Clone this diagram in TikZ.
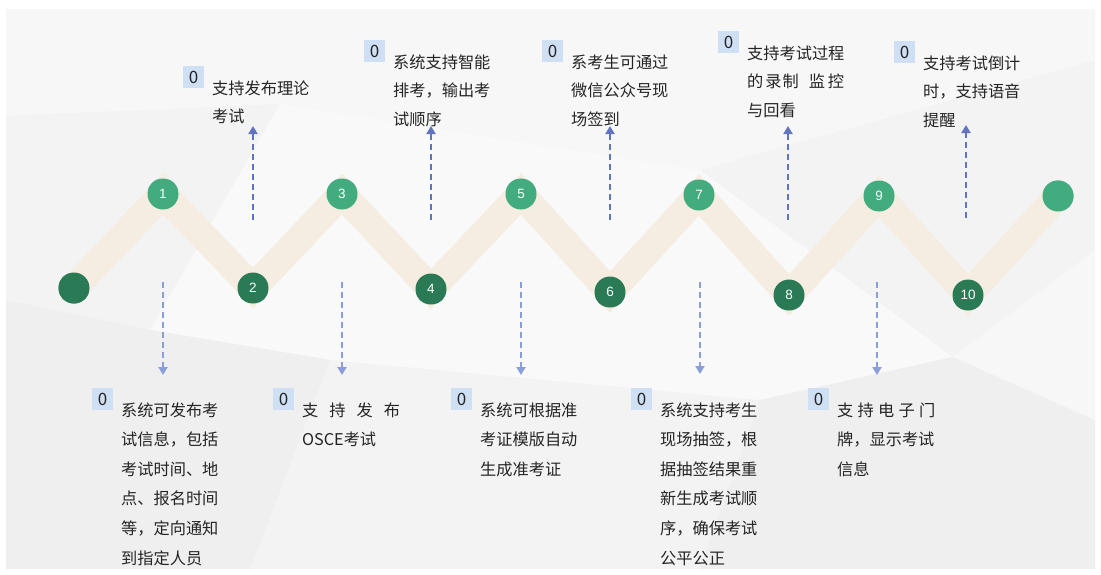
\documentclass[tikz,border=0pt]{standalone}
\usepackage{fontspec}
\setmainfont{Noto Sans CJK SC}
\newfontfamily\numfont{Liberation Sans}
\usetikzlibrary{arrows.meta}
\definecolor{bandc}{RGB}{245,237,226}
\definecolor{lgreen}{RGB}{66,172,126}
\definecolor{dgreen}{RGB}{42,122,86}
\definecolor{upblue}{RGB}{98,116,192}
\definecolor{dnblue}{RGB}{138,158,218}
\definecolor{zbox}{RGB}{207,224,245}
\definecolor{txt}{RGB}{36,36,36}
\definecolor{bgbase}{RGB}{243,243,243}
\definecolor{bglight}{RGB}{247,247,247}
\definecolor{bglighter}{RGB}{249,249,249}
\definecolor{bgdark}{RGB}{239,239,239}
\tikzset{
  dot/.style={circle,minimum size=31pt,inner sep=0pt,text=white,font=\numfont\fontsize{13.5}{13.5}\selectfont},
  ldot/.style={dot,fill=lgreen},
  ddot/.style={dot,fill=dgreen},
  band/.style={draw=bandc,line width=28pt,line join=miter},
  uparrow/.style={draw=upblue,line width=2.8pt,dash pattern=on 6pt off 4pt,-{Triangle[length=8pt,width=9pt]}},
  dnarrow/.style={draw=dnblue,line width=2.8pt,dash pattern=on 6pt off 4pt,-{Triangle[length=8pt,width=9pt]}},
  zero/.style={fill=zbox,minimum width=21pt,minimum height=22pt,inner sep=0pt,text=txt,font=\fontsize{17}{17}\selectfont},
  lbltop/.style={anchor=base west,inner sep=0pt,align=left,text=txt,font=\fontsize{16.2}{28.7}\selectfont},
  lblbot/.style={anchor=base west,inner sep=0pt,align=left,text=txt,font=\fontsize{16.2}{29.6}\selectfont},
}
\begin{document}
\begin{tikzpicture}[x=1pt,y=-1pt]
\useasboundingbox (0,0) rectangle (1101,574);
% background
\fill[white] (0,0) rectangle (1101,574);
\fill[bgbase] (6,9) rectangle (1095,569);
\fill[bglight] (6,9) -- (1095,9) -- (1095,60) -- (700,170) -- (280,104) -- (6,116) -- cycle;
\fill[bglighter] (280,104) -- (700,170) -- (953,357) -- (760,400) -- (330,360) -- (150,330) -- cycle;
\fill[bgdark] (6,300) -- (150,330) -- (330,360) -- (250,569) -- (6,569) -- cycle;
\fill[bgdark] (760,400) -- (953,357) -- (1095,420) -- (1095,569) -- (700,569) -- cycle;
\fill[bglight] (953,357) -- (1095,250) -- (1095,420) -- cycle;

% timeline nodes
\node[ddot] (s)  at (74,288) {};
\node[ldot] (n1) at (163,194) {1};
\node[ddot] (n2) at (253,288) {2};
\node[ldot] (n3) at (342,194) {3};
\node[ddot] (n4) at (431,289) {4};
\node[ldot] (n5) at (521,194) {5};
\node[ddot] (n6) at (610,292) {6};
\node[ldot] (n7) at (699,195) {7};
\node[ddot] (n8) at (789,295) {8};
\node[ldot] (n9) at (879,196) {9};
\node[ddot] (n10) at (968,295) {10};
\node[ldot] (e)  at (1058,196) {};

\path[band] (s.center) -- (n1.center) -- (n2.center) -- (n3.center) -- (n4.center) -- (n5.center)
  -- (n6.center) -- (n7.center) -- (n8.center) -- (n9.center) -- (n10.center) -- (e.center);
% redraw circles over band
\foreach \n in {s,n2,n4,n6,n8,n10} {\fill[dgreen] (\n) circle (15.5pt);}
\foreach \n in {n1,n3,n5,n7,n9,e} {\fill[lgreen] (\n) circle (15.5pt);}
\foreach \n/\t in {n1/1,n3/3,n5/5,n7/7,n9/9,n2/2,n4/4,n6/6,n8/8,n10/10} {\node[dot] at (\n) {\t};}

% arrow end coordinates
\coordinate (u1a) at (253,220); \coordinate (u1b) at (253,126);
\coordinate (u2a) at (431,220); \coordinate (u2b) at (431,126);
\coordinate (u3a) at (610,220); \coordinate (u3b) at (610,126);
\coordinate (u4a) at (788,220); \coordinate (u4b) at (788,126);
\coordinate (u5a) at (966,218); \coordinate (u5b) at (966,125);
\coordinate (d1a) at (163,282); \coordinate (d1b) at (163,375);
\coordinate (d2a) at (342,282); \coordinate (d2b) at (342,375);
\coordinate (d3a) at (521,282); \coordinate (d3b) at (521,375);
\coordinate (d4a) at (700,282); \coordinate (d4b) at (700,374);
\coordinate (d5a) at (877,282); \coordinate (d5b) at (877,375);
\foreach \i in {1,...,5} {\draw[uparrow] (u\i a) -- (u\i b);}
\foreach \i in {1,...,5} {\draw[dnarrow] (d\i a) -- (d\i b);}

% top labels (anchor = baseline of last line)
\node[zero] (z1) at (193.5,77) {0};
\node[lbltop] (t1) at (212,122.7) {支持发布理论\\考试};
\node[zero] (z2) at (374.5,51) {0};
\node[lbltop] (t2) at (393,125.4) {系统支持智能\\排考，输出考\\试顺序};
\node[zero] (z3) at (552.5,51) {0};
\node[lbltop] (t3) at (571,125.4) {系考生可通过\\微信公众号现\\场签到};
\node[zero] (z4) at (728.5,42) {0};
\node[lbltop] (t4) at (747,116.4) {支持考试过程\\的\hspace{2pt}录\hspace{1pt}制\hspace{10pt}监\hspace{3pt}控\\与回看};
\node[zero] (z5) at (904.5,52) {0};
\node[lbltop] (t5) at (923,126.4) {支持考试倒计\\时，支持语音\\提醒};

% bottom labels
\node[zero] (b1z) at (102.5,399) {0};
\node[lblbot] (b1) at (121,564) {系统可发布考\\试信息，包括\\考试时间、地\\点、报名时间\\等，定向通知\\到指定人员};
\node[zero] (b2z) at (283.5,399) {0};
\node[lblbot] (b2) at (302,445.6) {\makebox[98pt][s]{支\hfill 持\hfill 发\hfill 布}\\OSCE考试};
\node[zero] (b3z) at (461.5,399) {0};
\node[lblbot] (b3) at (480,475.2) {系统可根据准\\考证模版自动\\生成准考证};
\node[zero] (b4z) at (641.5,399) {0};
\node[lblbot] (b4) at (660,564) {系统支持考生\\现场抽签，根\\据抽签结果重\\新生成考试顺\\序，确保考试\\公平公正};
\node[zero] (b5z) at (818.5,399) {0};
\node[lblbot] (b5) at (837,475.2) {\makebox[98pt][s]{支\hfill 持\hfill 电\hfill 子\hfill 门}\\牌，显示考试\\信息};
\end{tikzpicture}
\end{document}
